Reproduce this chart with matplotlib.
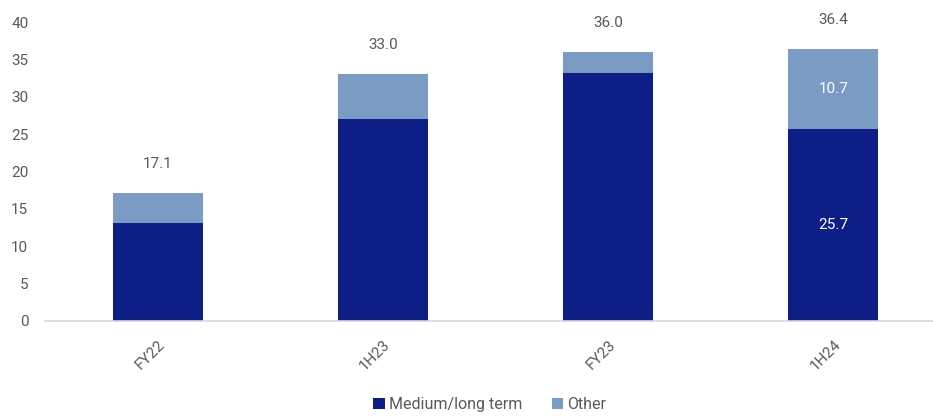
import numpy as np
import matplotlib.pyplot as plt

plt.rcParams['font.family'] = ['Roboto', 'DejaVu Sans']

periods = ['FY22', '1H23', 'FY23', '1H24']
medium_long = [13.1, 27.0, 33.2, 25.7]
other = [4.0, 6.0, 2.8, 10.7]
totals = [17.1, 33.0, 36.0, 36.4]

dark = '#0E1E87'
light = '#7A9BC4'
grey = '#595959'

fig = plt.figure(figsize=(9.33, 4.18), dpi=100)
ax = fig.add_axes([45 / 933, 1 - 321 / 418, 901 / 933, 299 / 418])

x = np.arange(len(periods))
ax.bar(x, medium_long, width=0.4, color=dark, label='Medium/long term')
ax.bar(x, other, width=0.4, bottom=medium_long, color=light, label='Other')

for i, t in enumerate(totals):
    ax.annotate(f'{t:.1f}', (x[i], t), xytext=(0, 16), textcoords='offset points',
                ha='center', va='bottom', fontsize=11, color=grey)

# only the last bar carries segment labels
ax.text(x[3], medium_long[3] / 2, f'{medium_long[3]:.1f}', ha='center', va='center',
        fontsize=11, color='white')
ax.text(x[3], medium_long[3] + other[3] / 2, f'{other[3]:.1f}', ha='center', va='center',
        fontsize=11, color='white')

ax.set_xlim(-0.5, 3.5)
ax.set_ylim(0, 40)
ax.set_yticks(range(0, 41, 5))
ax.set_xticks(x)
ax.set_xticklabels(periods, rotation=45, ha='right', rotation_mode='anchor')
ax.tick_params(axis='both', length=0, labelsize=11, labelcolor=grey)
ax.tick_params(axis='x', pad=12)
ax.tick_params(axis='y', pad=12)

for s in ['top', 'right', 'left']:
    ax.spines[s].set_visible(False)
ax.spines['bottom'].set_color('#D9D9D9')
ax.spines['bottom'].set_linewidth(1.2)

ax.legend(loc='lower center', bbox_to_anchor=(490 / 933, -0.02), bbox_transform=fig.transFigure,
          ncol=2, frameon=False, fontsize=11.5, handlelength=0.7, handleheight=0.7,
          handletextpad=0.3, columnspacing=1.8, labelcolor=grey)

fig.savefig('out.png', dpi=100)
